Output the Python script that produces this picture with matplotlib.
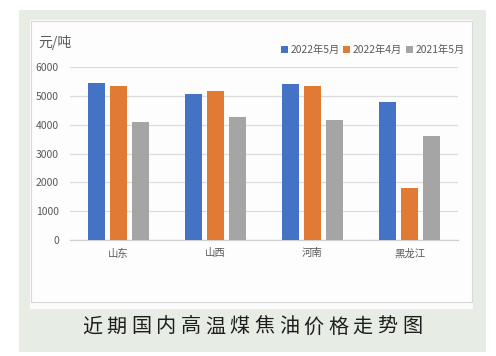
import matplotlib
matplotlib.use("Agg")
import matplotlib.pyplot as plt
from matplotlib.patches import Rectangle
import numpy as np

plt.rcParams['font.family'] = ['Noto Sans CJK SC', 'DejaVu Sans']

categories = ['山东', '山西', '河南', '黑龙江']
series_names = ['2022年5月', '2022年4月', '2021年5月']
may_2022 = [5430, 5050, 5400, 4800]
apr_2022 = [5350, 5160, 5350, 1800]
may_2021 = [4100, 4270, 4150, 3600]
yticks = [0, 1000, 2000, 3000, 4000, 5000, 6000]
unit_label = '元/吨'
caption = '近期国内高温煤焦油价格走势图'

colors = ['#4472C4', '#E07A35', '#A5A5A5']

W, H = 496, 356
fig = plt.figure(figsize=(W / 100, H / 100), dpi=100)
fig.patch.set_facecolor('white')

def px_rect(x0, y0, x1, y1, **kw):
    return Rectangle((x0 / W, 1 - y1 / H), (x1 - x0) / W, (y1 - y0) / H,
                     transform=fig.transFigure, **kw)

# green panel
fig.patches.append(px_rect(19, 10, 486, 352, facecolor='#E7EDE5', edgecolor='none', zorder=0))
# white chart box (with lower strip)
fig.patches.append(px_rect(30, 20, 473, 309, facecolor='#FBFBFB', edgecolor='none', zorder=0.5))
fig.patches.append(px_rect(31, 21, 472, 302, facecolor='#FDFDFD', edgecolor='#D8D8D8', linewidth=0.8, zorder=1))

ax = fig.add_axes([70 / W, (H - 240) / H, 388 / W, 173 / H])
ax.set_facecolor('none')
ax.set_zorder(2)

x = np.arange(len(categories))
pitch = 0.224
width = 0.175
for i, (vals, name) in enumerate(zip([may_2022, apr_2022, may_2021], series_names)):
    ax.bar(x + (i - 1) * pitch, vals, width=width, color=colors[i], label=name, zorder=3)

ax.set_xlim(-0.5, len(categories) - 0.5)
ax.set_ylim(0, 6000)
ax.set_yticks(yticks)
ax.set_yticklabels([str(v) for v in yticks])
ax.yaxis.grid(True, color='#DCDCDC', linewidth=0.9, zorder=0)
ax.set_axisbelow(True)
ax.set_xticks(x)
ax.set_xticklabels(categories)
for s in ['top', 'right', 'left']:
    ax.spines[s].set_visible(False)
ax.spines['bottom'].set_color('#CFCFCF')
ax.spines['bottom'].set_linewidth(0.9)
ax.tick_params(axis='both', length=0, labelsize=7.5, colors='#595959')
ax.tick_params(axis='y', pad=8)
ax.tick_params(axis='x', pad=6)

fig.text(38 / W, 1 - 43 / H, unit_label, fontsize=10, color='#595959', va='center', ha='left')

leg = ax.legend(loc='center right', bbox_to_anchor=(469 / W, 1 - 50 / H),
                bbox_transform=fig.transFigure, ncol=3, frameon=False,
                fontsize=7.4, handlelength=0.7, handleheight=0.7,
                handletextpad=0.25, columnspacing=0.35, borderaxespad=0)
for t in leg.get_texts():
    t.set_color('#595959')

# caption with letter spacing
n = len(caption)
x_start, x_end = 92, 412
for k, ch in enumerate(caption):
    cx = x_start + (x_end - x_start) * k / (n - 1)
    fig.text(cx / W, 1 - 327 / H, ch, fontsize=14.5, color='#1E1E1E',
             ha='center', va='center', fontweight='medium')

fig.savefig('out.png', dpi=100, facecolor=fig.get_facecolor())
